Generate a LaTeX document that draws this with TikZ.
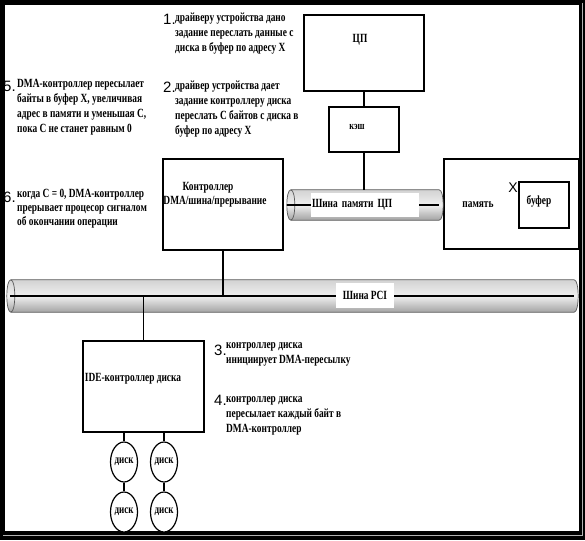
\documentclass[tikz,border=0pt]{standalone}
\usepackage{fontspec}
\setmainfont[FakeStretch=0.75]{Liberation Serif}
\newfontfamily\numfont{Liberation Sans}
\usetikzlibrary{shapes.geometric}

% cylinder round a bus node
\newcommand\busshape[1]{%
  \shade[busfill] ([xshift=4pt]#1.north west) -- ([xshift=-4pt]#1.north east)
    .. controls +(5.3,0) and +(5.3,0) .. ([xshift=-4pt]#1.south east)
    -- ([xshift=4pt]#1.south west)
    .. controls +(-5.3,0) and +(-5.3,0) .. cycle;
  \draw[gray!70!black, line width=0.7pt] ([xshift=4pt]#1.north west)
    .. controls +(5.3,0) and +(5.3,0) .. ([xshift=4pt]#1.south west);
}

\begin{document}
\begin{tikzpicture}[x=1pt,y=-1pt,
    box/.style={draw, line width=1.2pt, fill=white, inner sep=0pt},
    bus/.style={inner sep=0pt},
    busfill/.style={draw=gray!70!black, line width=0.7pt, top color=gray!35, bottom color=gray!72, middle color=gray!12},
    buslbl/.style={fill=white, inner sep=1pt, font=\bfseries\fontsize{12.5}{12.5}\selectfont},
    lbl/.style={font=\bfseries\fontsize{12.5}{12.5}\selectfont},
    disk/.style={ellipse, draw, line width=1.2pt, fill=white, minimum width=27pt, minimum height=40pt,
      inner sep=0pt, font=\bfseries\fontsize{12}{12}\selectfont},
    conn/.style={line width=1.3pt},
    num/.style={anchor=base west, inner sep=0pt, font=\numfont\fontsize{15}{15}\selectfont},
    note/.style={anchor=base west, inner sep=0pt, align=left, font=\bfseries\fontsize{12.5}{15}\selectfont}]
  \useasboundingbox (0,0) rectangle (585,540);
  % frame
  \fill[black] (0,0) rectangle (585,540);
  \fill[white] (5,5) rectangle (579,531);
  \draw[gray!60, line width=0.8pt] (582,3) -- (582,535) -- (3,535);

  % boxes
  \node[box, minimum width=120pt, minimum height=76pt] (cpu) at (364,53) {};
  \node[lbl] (cpulbl) at (360,40) {ЦП};
  \node[box, minimum width=70pt, minimum height=45pt] (cache) at (364,129.5) {};
  \node[font=\bfseries\fontsize{11}{11}\selectfont] (cachelbl) at (357,127) {кэш};
  \node[box, minimum width=120pt, minimum height=91pt] (dma) at (223,204.5) {};
  \node[lbl, align=center, font=\bfseries\fontsize{12.5}{14}\selectfont] (dmalbl) at (215,195) {Контроллер\kern14pt\\DMA/шина/прерывание};
  \node[box, minimum width=135pt, minimum height=90pt] (mem) at (511.5,204) {};
  \node[lbl] (memlbl) at (478,205) {память};
  \node[box, minimum width=50pt, minimum height=46pt] (buf) at (544,205) {};
  \node[lbl] (buflbl) at (539,201) {буфер};
  \node[font=\numfont\fontsize{14}{14}\selectfont, inner sep=0pt] (bufx) at (513,188) {X};
  \node[box, minimum width=121pt, minimum height=91pt] (ide) at (143.5,386.5) {};
  \node[lbl] (idelbl) at (133,379) {IDE-контроллер диска};

  % buses
  \node[bus, minimum width=156pt, minimum height=30pt] (membus) at (365,205) {};
  \busshape{membus}
  \draw[conn] (membus.west) -- ([xshift=-4pt]membus.east);
  \node[buslbl, text width=106pt, minimum height=24pt, align=left] (membuslbl) at (365,205) {Шина памяти ЦП};
  \node[bus, minimum width=571pt, minimum height=32pt] (pci) at (292.5,296) {};
  \busshape{pci}
  \draw[conn] ([xshift=3pt]pci.west) -- ([xshift=-4pt]pci.east);
  \node[buslbl, minimum width=58pt, minimum height=25pt] (pcilbl) at (365,295.5) {Шина PCI};

  % disks
  \node[disk] (d1) at (124,462) {диск};
  \node[disk] (d2) at (164,462) {диск};
  \node[disk] (d3) at (124,512) {диск};
  \node[disk] (d4) at (164,512) {диск};

  % connectors
  \draw[conn] (cpu) -- (cache);
  \draw[conn] (cache) -- (cache |- membus.north);
  \draw[conn] (dma) -- (dma.south |- pci.center);
  \draw[conn] (ide) -- (ide.north |- pci.center);
  \draw[conn] (d1 |- ide.south) -- (d1);
  \draw[conn] (d2 |- ide.south) -- (d2);
  \draw[conn] (d1) -- (d3);
  \draw[conn] (d2) -- (d4);

  % steps
  \node[num] (n1) at (163,25) {1.};
  \node[note] (t1) at (175,52) {драйверу устройства дано\\задание переслать данные с\\диска в буфер по адресу X};
  \node[num] (n2) at (163,93) {2.};
  \node[note] (t2) at (175,135) {драйвер устройства дает\\задание контроллеру диска\\переслать C байтов с диска в\\буфер по адресу X};
  \node[num] (n3) at (214,355) {3.};
  \node[note] (t3) at (226,363) {контроллер диска\\инициирует DMA-пересылку};
  \node[num] (n4) at (214,405) {4.};
  \node[note] (t4) at (226,432) {контроллер диска\\пересылает каждый байт в\\DMA-контроллер};
  \node[num] (n5) at (3,92) {5.};
  \node[note] (t5) at (17,133) {DMA-контроллер пересылает\\байты в буфер X, увеличивая\\адрес в памяти и уменьшая C,\\пока C не станет равным 0};
  \node[num] (n6) at (3,202) {6.};
  \node[note, font=\bfseries\fontsize{12.5}{14}\selectfont] (t6) at (17,225) {когда C = 0, DMA-контроллер\\прерывает процесор сигналом\\об окончании операции};
\end{tikzpicture}
\end{document}
